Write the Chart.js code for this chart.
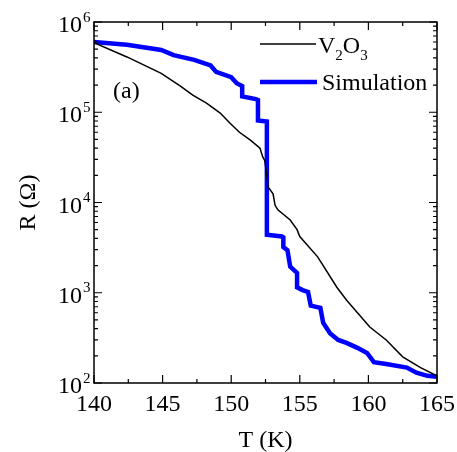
<!DOCTYPE html>
<html>
<head>
<meta charset="utf-8">
<script src="https://cdn.jsdelivr.net/npm/chart.js@4.4.0/dist/chart.umd.min.js"></script>
<style>
  body { margin: 0; background: #fff; }
  canvas { display: block; }
</style>
</head>
<body>
<canvas id="chart" width="457" height="452"></canvas>
<script>
// measured V2O3 curve (thin black)
const tempV2O3 = [140, 142.4, 144.9, 146.3, 147.2, 148.2, 149.2, 149.9, 150.6, 151.4, 152.1, 152.3, 152.45, 152.7, 153.05, 153.2, 153.4, 154.3, 154.8, 155.0, 156.3, 157.7, 158.4, 160.1, 161.3, 162.5, 163.8, 165];
const resV2O3 = [5.9e5, 4.1e5, 2.7e5, 1.95e5, 1.55e5, 1.26e5, 9.8e4, 7.6e4, 6.0e4, 4.9e4, 4.0e4, 3.2e4, 2.9e4, 1.48e4, 1.25e4, 9.3e3, 8.3e3, 6.4e3, 5.0e3, 4.2e3, 2.5e3, 1.15e3, 830, 417, 300, 195, 148, 120];

// simulation curve (thick blue, stepped)
const tempSim = [140, 142.4, 144.9, 145.8, 147.3, 148.5, 148.9, 150.0, 150.4, 150.8, 150.8, 151.8, 151.95, 151.95, 152.6, 152.6, 153.7, 153.8, 153.8, 154.1, 154.3, 154.8, 154.8, 155.2, 155.6, 155.8, 156.5, 156.7, 157.2, 157.8, 158.4, 159.2, 159.9, 160.4, 161.3, 162.8, 163.5, 164.3, 165];
const resSim = [6.0e5, 5.6e5, 4.9e5, 4.3e5, 3.8e5, 3.3e5, 2.8e5, 2.45e5, 2.1e5, 1.95e5, 1.5e5, 1.4e5, 1.37e5, 8.1e4, 7.9e4, 4.4e3, 4.2e3, 4.1e3, 3.2e3, 2.96e3, 1.95e3, 1.66e3, 1.15e3, 1.07e3, 1.02e3, 720, 680, 465, 355, 300, 278, 245, 215, 170, 162, 148, 130, 120, 117];

const xTicks = [140, 145, 150, 155, 160, 165];
const yExponents = [2, 3, 4, 5, 6];
const seriesNames = ["V", "Simulation"];

const serif = "'Liberation Serif', 'Times New Roman', serif";

function toPoints(xs, ys) {
  const pts = [];
  for (let i = 0; i < xs.length; i++) pts.push({ x: xs[i], y: ys[i] });
  return pts;
}

// frame, inward ticks, labels and legend
const framePlugin = {
  id: 'frame',
  afterDraw(chart) {
    const ctx = chart.ctx;
    const a = chart.chartArea;
    const xs = chart.scales.x;
    const ys = chart.scales.y;
    ctx.save();
    ctx.strokeStyle = '#000';
    ctx.fillStyle = '#000';
    ctx.lineWidth = 1.5;
    ctx.strokeRect(a.left, a.top, a.right - a.left, a.bottom - a.top);

    ctx.lineWidth = 1.2;
    ctx.beginPath();
    for (let t = 140; t <= 165; t += 2.5) {
      const px = xs.getPixelForValue(t);
      const len = (t % 5 === 0) ? 8 : 4;
      ctx.moveTo(px, a.bottom); ctx.lineTo(px, a.bottom - len);
      ctx.moveTo(px, a.top); ctx.lineTo(px, a.top + len);
    }
    for (let e = 2; e <= 5; e++) {
      for (let m = 1; m <= 9; m++) {
        const py = ys.getPixelForValue(m * Math.pow(10, e));
        const len = m === 1 ? 8 : 4;
        ctx.moveTo(a.left, py); ctx.lineTo(a.left + len, py);
        ctx.moveTo(a.right, py); ctx.lineTo(a.right - len, py);
      }
    }
    const top = ys.getPixelForValue(1e6);
    ctx.moveTo(a.left, top); ctx.lineTo(a.left + 8, top);
    ctx.moveTo(a.right, top); ctx.lineTo(a.right - 8, top);
    ctx.stroke();

    // x tick labels
    ctx.font = '24px ' + serif;
    ctx.textAlign = 'center';
    ctx.textBaseline = 'alphabetic';
    xTicks.forEach(t => ctx.fillText(String(t), xs.getPixelForValue(t), 411));

    // y tick labels 10^n
    yExponents.forEach(e => {
      const py = ys.getPixelForValue(Math.pow(10, e));
      ctx.font = '24px ' + serif;
      ctx.textAlign = 'right';
      ctx.fillText('10', 82, py + 10);
      ctx.font = '15px ' + serif;
      ctx.textAlign = 'left';
      ctx.fillText(String(e), 83, py - 0.5);
    });

    // axis titles
    ctx.font = '24px ' + serif;
    ctx.textAlign = 'center';
    ctx.fillText('T (K)', (a.left + a.right) / 2, 447);
    ctx.save();
    ctx.translate(35, (a.top + a.bottom) / 2);
    ctx.rotate(-Math.PI / 2);
    ctx.fillText('R (\u03A9)', 0, 0);
    ctx.restore();

    // panel label
    ctx.textAlign = 'left';
    ctx.fillText('(a)', 113, 98);

    // legend
    ctx.lineWidth = 1.5;
    ctx.strokeStyle = '#000';
    ctx.beginPath(); ctx.moveTo(260, 44); ctx.lineTo(316, 44); ctx.stroke();
    let x = 318;
    ctx.font = '24px ' + serif;
    ctx.fillText(seriesNames[0], x, 53); x += ctx.measureText(seriesNames[0]).width;
    ctx.font = '15px ' + serif;
    ctx.fillText('2', x, 60); x += ctx.measureText('2').width;
    ctx.font = '24px ' + serif;
    ctx.fillText('O', x, 53); x += ctx.measureText('O').width;
    ctx.font = '15px ' + serif;
    ctx.fillText('3', x, 60);

    ctx.lineWidth = 4.5;
    ctx.strokeStyle = '#0000ff';
    ctx.beginPath(); ctx.moveTo(260, 82); ctx.lineTo(317, 82); ctx.stroke();
    ctx.font = '24px ' + serif;
    ctx.fillText(seriesNames[1], 322, 90);
    ctx.restore();
  }
};

new Chart(document.getElementById('chart'), {
  type: 'line',
  data: {
    datasets: [
      {
        label: 'V2O3',
        data: toPoints(tempV2O3, resV2O3),
        borderColor: '#000',
        borderWidth: 1.5,
        pointRadius: 0,
        tension: 0
      },
      {
        label: 'Simulation',
        data: toPoints(tempSim, resSim),
        borderColor: '#0000ff',
        borderWidth: 4.5,
        pointRadius: 0,
        tension: 0,
        borderJoinStyle: 'miter'
      }
    ]
  },
  options: {
    responsive: false,
    devicePixelRatio: 1,
    animation: false,
    layout: { padding: { left: 94, top: 22, right: 20, bottom: 69 } },
    plugins: { legend: { display: false }, tooltip: { enabled: false } },
    scales: {
      x: { type: 'linear', min: 140, max: 165, display: false },
      y: { type: 'logarithmic', min: 100, max: 1e6, display: false }
    }
  },
  plugins: [framePlugin]
});
</script>
</body>
</html>
